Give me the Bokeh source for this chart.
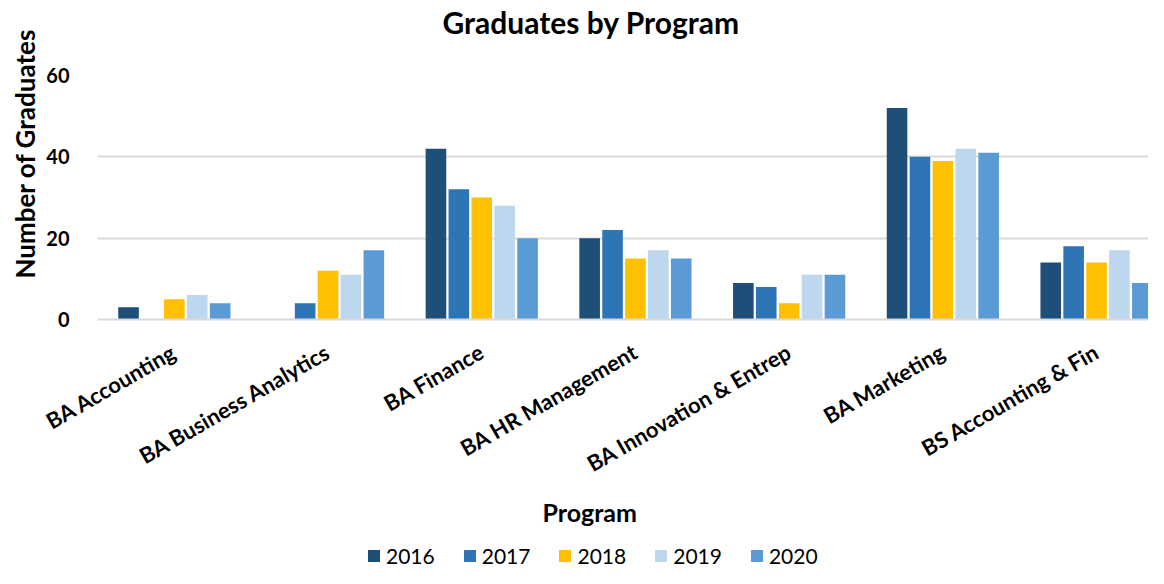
import numpy as np
from math import pi
from bokeh.plotting import figure
from bokeh.layouts import column
from bokeh.models import Range1d, FixedTicker, Legend, LegendItem, Title
from bokeh.embed import file_html
from bokeh.resources import INLINE

programs = ["BA Accounting", "BA Business Analytics", "BA Finance", "BA HR Management",
            "BA Innovation & Entrep", "BA Marketing", "BS Accounting & Fin"]
years = ["2016", "2017", "2018", "2019", "2020"]
g2016 = [3, 0, 42, 20, 9, 52, 14]
g2017 = [0, 4, 32, 22, 8, 40, 18]
g2018 = [5, 12, 30, 15, 4, 39, 14]
g2019 = [6, 11, 28, 17, 11, 42, 17]
g2020 = [4, 17, 20, 15, 11, 41, 9]
series = [g2016, g2017, g2018, g2019, g2020]
colors = ["#1F4E79", "#2E75B6", "#FFC000", "#BDD7EE", "#5B9BD5"]
y_ticks = [0, 20, 40, 60]

FONT = "Lato"
TXT = "#000000"

p = figure(width=1148, height=533, x_range=Range1d(0, 6.838), y_range=Range1d(0, 60),
           title=None, output_backend="svg", toolbar_location=None,
           min_border_left=97, min_border_right=0, min_border_top=75, min_border_bottom=214)

centers = np.arange(len(programs)) + 0.5
slot = 0.149
for j, (vals, c) in enumerate(zip(series, colors)):
    p.vbar(x=centers + (j - 2) * slot, top=vals, width=0.134, fill_color=c, line_color=None)

# x axis
xa = p.xaxis[0]
xa.ticker = FixedTicker(ticks=list(centers))
xa.major_label_overrides = {float(c): name for c, name in zip(centers, programs)}
xa.major_label_orientation = pi / 6
xa.major_label_standoff = 24
xa.major_label_text_font = FONT
xa.major_label_text_font_style = "bold"
xa.major_label_text_font_size = "22px"
xa.major_label_text_color = TXT
xa.major_tick_line_color = None
xa.minor_tick_line_color = None
xa.axis_line_color = "#D9D9D9"
xa.axis_line_width = 2

# y axis
ya = p.yaxis[0]
ya.ticker = FixedTicker(ticks=y_ticks)
ya.major_label_text_font = FONT
ya.major_label_text_font_style = "bold"
ya.major_label_text_font_size = "20px"
ya.major_label_text_color = TXT
ya.major_label_standoff = 22
ya.major_tick_line_color = None
ya.minor_tick_line_color = None
ya.axis_line_color = None

yt = Title(text="Number of Graduates", text_font=FONT, text_font_style="bold",
           text_font_size="26px", text_color=TXT, align="left", offset=41,
           vertical_align="top", standoff=2)
p.add_layout(yt, "left")

p.xgrid.visible = False
p.ygrid.ticker = FixedTicker(ticks=y_ticks)
p.ygrid.grid_line_color = "#D9D9D9"
p.ygrid.grid_line_width = 2
p.outline_line_color = None

# title (a thin spacer keeps it clear of the plot area)
spacer = Title(text=" ", text_font_size="1px", standoff=32)
p.add_layout(spacer, "above")
tt = Title(text="Graduates by Program", text_font=FONT, text_font_style="bold",
           text_font_size="30px", text_color=TXT, align="left", offset=345, standoff=2)
p.add_layout(tt, "above")

xt = Title(text="Program", text_font=FONT, text_font_style="bold", text_font_size="25px",
           text_color=TXT, align="left", offset=445, vertical_align="top", standoff=10)
p.add_layout(xt, "below")

# legend strip: same series drawn far out of view, used only for the legend swatches
leg = figure(width=1148, height=35, x_range=Range1d(100, 101), y_range=Range1d(100, 101),
             x_axis_type=None, y_axis_type=None, output_backend="svg",
             toolbar_location=None, min_border=0)
leg.outline_line_color = None
swatches = [leg.vbar(x=centers + (j - 2) * slot, top=vals, width=0.134, fill_color=c,
                     line_color=None) for j, (vals, c) in enumerate(zip(series, colors))]
legend = Legend(items=[LegendItem(label=y, renderers=[r]) for y, r in zip(years, swatches)],
                orientation="horizontal", location=(269, 0),
                glyph_width=15, glyph_height=15, label_standoff=5, spacing=27,
                padding=0, margin=0, border_line_color=None, background_fill_alpha=0,
                label_text_font=FONT, label_text_font_size="21px", label_text_color=TXT)
leg.add_layout(legend, "center")

open("out.html", "w").write(file_html(column(p, leg, spacing=0), INLINE))
